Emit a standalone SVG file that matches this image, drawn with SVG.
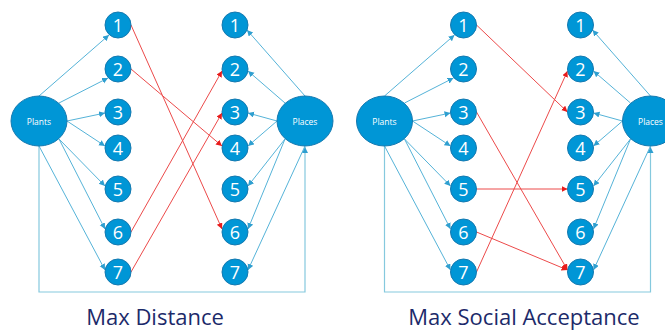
<svg xmlns="http://www.w3.org/2000/svg" width="665" height="332" viewBox="0 0 665 332">
<defs>
<style>
.n{fill:#0096d6;stroke:#1479b0;stroke-width:1}
.big{fill:#0096d6;stroke:#1479b0;stroke-width:1}
.t{fill:#fff;font-family:"Open Sans","Noto Sans",sans-serif;font-size:18px;text-anchor:middle;dominant-baseline:central}
.tb{fill:#fff;font-family:"Open Sans","Noto Sans",sans-serif;font-size:8.5px;text-anchor:middle;dominant-baseline:central}
.bl{stroke:#55b3d8;stroke-width:1;fill:none;marker-end:url(#ab)}
.fr{stroke:#85c9de;stroke-width:1.2;fill:none;marker-end:url(#ab)}
.rd{stroke:#ec4a4a;stroke-width:1;fill:none;marker-end:url(#ar)}
.ti{fill:#1c2a6a;font-family:"Open Sans","Noto Sans",sans-serif;font-size:22px;text-anchor:middle}
</style>
<marker id="ab" markerUnits="userSpaceOnUse" markerWidth="8" markerHeight="8" refX="6" refY="3" orient="auto"><path d="M0,0 L6,3 L0,6 z" fill="#2f9fd0"/></marker>
<marker id="ar" markerUnits="userSpaceOnUse" markerWidth="8" markerHeight="8" refX="6" refY="3" orient="auto"><path d="M0,0 L6,3 L0,6 z" fill="#e81c1c"/></marker>
</defs>
<rect width="665" height="332" fill="#fff"/>

<g id="connectors-left">
<path class="fr" d="M39,146 V292 H305 V147"/>
<line class="bl" x1="39" y1="96" x2="109" y2="35"/>
<line class="bl" x1="59" y1="103" x2="108" y2="78"/>
<line class="bl" x1="67" y1="121" x2="105" y2="113"/>
<line class="bl" x1="67" y1="121" x2="105" y2="146"/>
<line class="bl" x1="59" y1="139" x2="105" y2="186"/>
<line class="bl" x1="59" y1="139" x2="105" y2="229"/>
<line class="bl" x1="39" y1="146" x2="105" y2="270"/>
<line class="bl" x1="305" y1="96" x2="247" y2="30"/>
<line class="bl" x1="285" y1="103" x2="248" y2="71"/>
<line class="bl" x1="277" y1="121" x2="248" y2="113"/>
<line class="bl" x1="277" y1="121" x2="248" y2="146"/>
<line class="bl" x1="285" y1="139" x2="248" y2="186"/>
<line class="bl" x1="285" y1="139" x2="248" y2="229"/>
<line class="bl" x1="305" y1="146" x2="248" y2="270"/>
<line class="rd" x1="131" y1="25" x2="222" y2="229"/>
<line class="rd" x1="131" y1="69" x2="222" y2="146"/>
<line class="rd" x1="131" y1="232" x2="222" y2="71"/>
<line class="rd" x1="131" y1="272" x2="222" y2="113"/>
</g>

<g id="connectors-right" transform="translate(345.5,0)">
<path class="fr" d="M39,146 V292 H305 V147"/>
<line class="bl" x1="39" y1="96" x2="109" y2="35"/>
<line class="bl" x1="59" y1="103" x2="108" y2="78"/>
<line class="bl" x1="67" y1="121" x2="105" y2="113"/>
<line class="bl" x1="67" y1="121" x2="105" y2="146"/>
<line class="bl" x1="59" y1="139" x2="105" y2="186"/>
<line class="bl" x1="59" y1="139" x2="105" y2="229"/>
<line class="bl" x1="39" y1="146" x2="105" y2="270"/>
<line class="bl" x1="305" y1="96" x2="247" y2="30"/>
<line class="bl" x1="285" y1="103" x2="248" y2="71"/>
<line class="bl" x1="277" y1="121" x2="248" y2="113"/>
<line class="bl" x1="277" y1="121" x2="248" y2="146"/>
<line class="bl" x1="285" y1="139" x2="248" y2="186"/>
<line class="bl" x1="285" y1="139" x2="248" y2="229"/>
<line class="bl" x1="305" y1="146" x2="248" y2="270"/>
<line class="rd" x1="131" y1="25" x2="222" y2="112"/>
<line class="rd" x1="131" y1="112" x2="222" y2="270"/>
<line class="rd" x1="131" y1="189" x2="222" y2="189"/>
<line class="rd" x1="131" y1="232" x2="222" y2="270"/>
<line class="rd" x1="131" y1="272" x2="222" y2="71"/>
</g>

<g id="d1-plants"><ellipse class="big" cx="39" cy="121" rx="28" ry="25"/><text class="tb" x="39" y="121">Plants</text></g>
<g id="d1-places"><ellipse class="big" cx="305" cy="121" rx="28" ry="25"/><text class="tb" x="305" y="121">Places</text></g>
<g id="d1-a1"><circle class="n" cx="118" cy="25" r="13"/><text class="t" x="118" y="25">1</text></g>
<g id="d1-a2"><circle class="n" cx="118" cy="69" r="13"/><text class="t" x="118" y="69">2</text></g>
<g id="d1-a3"><circle class="n" cx="118" cy="112" r="13"/><text class="t" x="118" y="112">3</text></g>
<g id="d1-a4"><circle class="n" cx="118" cy="148" r="13"/><text class="t" x="118" y="148">4</text></g>
<g id="d1-a5"><circle class="n" cx="118" cy="189" r="13"/><text class="t" x="118" y="189">5</text></g>
<g id="d1-a6"><circle class="n" cx="118" cy="232" r="13"/><text class="t" x="118" y="232">6</text></g>
<g id="d1-a7"><circle class="n" cx="118" cy="272" r="13"/><text class="t" x="118" y="272">7</text></g>
<g id="d1-b1"><circle class="n" cx="235" cy="25" r="13"/><text class="t" x="235" y="25">1</text></g>
<g id="d1-b2"><circle class="n" cx="235" cy="69" r="13"/><text class="t" x="235" y="69">2</text></g>
<g id="d1-b3"><circle class="n" cx="235" cy="112" r="13"/><text class="t" x="235" y="112">3</text></g>
<g id="d1-b4"><circle class="n" cx="235" cy="148" r="13"/><text class="t" x="235" y="148">4</text></g>
<g id="d1-b5"><circle class="n" cx="235" cy="189" r="13"/><text class="t" x="235" y="189">5</text></g>
<g id="d1-b6"><circle class="n" cx="235" cy="232" r="13"/><text class="t" x="235" y="232">6</text></g>
<g id="d1-b7"><circle class="n" cx="235" cy="272" r="13"/><text class="t" x="235" y="272">7</text></g>

<g transform="translate(345.5,0)">
<g id="d2-plants"><ellipse class="big" cx="39" cy="121" rx="28" ry="25"/><text class="tb" x="39" y="121">Plants</text></g>
<g id="d2-places"><ellipse class="big" cx="305" cy="121" rx="28" ry="25"/><text class="tb" x="305" y="121">Places</text></g>
<g id="d2-a1"><circle class="n" cx="118" cy="25" r="13"/><text class="t" x="118" y="25">1</text></g>
<g id="d2-a2"><circle class="n" cx="118" cy="69" r="13"/><text class="t" x="118" y="69">2</text></g>
<g id="d2-a3"><circle class="n" cx="118" cy="112" r="13"/><text class="t" x="118" y="112">3</text></g>
<g id="d2-a4"><circle class="n" cx="118" cy="148" r="13"/><text class="t" x="118" y="148">4</text></g>
<g id="d2-a5"><circle class="n" cx="118" cy="189" r="13"/><text class="t" x="118" y="189">5</text></g>
<g id="d2-a6"><circle class="n" cx="118" cy="232" r="13"/><text class="t" x="118" y="232">6</text></g>
<g id="d2-a7"><circle class="n" cx="118" cy="272" r="13"/><text class="t" x="118" y="272">7</text></g>
<g id="d2-b1"><circle class="n" cx="235" cy="25" r="13"/><text class="t" x="235" y="25">1</text></g>
<g id="d2-b2"><circle class="n" cx="235" cy="69" r="13"/><text class="t" x="235" y="69">2</text></g>
<g id="d2-b3"><circle class="n" cx="235" cy="112" r="13"/><text class="t" x="235" y="112">3</text></g>
<g id="d2-b4"><circle class="n" cx="235" cy="148" r="13"/><text class="t" x="235" y="148">4</text></g>
<g id="d2-b5"><circle class="n" cx="235" cy="189" r="13"/><text class="t" x="235" y="189">5</text></g>
<g id="d2-b6"><circle class="n" cx="235" cy="232" r="13"/><text class="t" x="235" y="232">6</text></g>
<g id="d2-b7"><circle class="n" cx="235" cy="272" r="13"/><text class="t" x="235" y="272">7</text></g>
</g>

<text class="ti" x="155" y="325">Max Distance</text>
<text class="ti" x="524" y="325">Max Social Acceptance</text>
</svg>
